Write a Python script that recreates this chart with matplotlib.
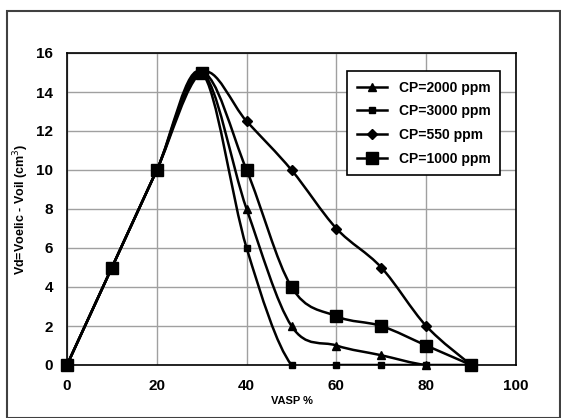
import numpy as np
import matplotlib.pyplot as plt
from matplotlib.path import Path
from matplotlib.patches import PathPatch, Rectangle

plt.rcParams['font.family'] = ['Liberation Sans', 'DejaVu Sans']

# data
vasp = [0, 10, 20, 30, 40, 50, 60, 70, 80, 90]
cp2000 = [0, 5, 10, 15, 8, 2, 1, 0.5, 0, 0]
cp3000 = [0, 5, 10, 15, 6, 0, 0, 0, 0, 0]
cp550 = [0, 5, 10, 15, 12.5, 10, 7, 5, 2, 0]
cp1000 = [0, 5, 10, 15, 10, 4, 2.5, 2, 1, 0]


def smooth_path(x, y):
    # excel style smoothed line through the points (bezier segments)
    p = np.column_stack([x, y]).astype(float)
    n = len(p)
    verts = [p[0]]
    codes = [Path.MOVETO]
    for i in range(n - 1):
        p0 = p[i - 1] if i > 0 else p[i]
        p3 = p[i + 2] if i + 2 < n else p[i + 1]
        c1 = p[i] + (p[i + 1] - p0) / 6.0
        c2 = p[i + 1] - (p3 - p[i]) / 6.0
        verts += [c1, c2, p[i + 1]]
        codes += [Path.CURVE4] * 3
    return Path(verts, codes)


fig = plt.figure(figsize=(5.61, 4.18), dpi=100)
ax = fig.add_axes([67 / 561, 1 - 365 / 418, 449 / 561, 312 / 418])

series = [
    (cp2000, '^', 6, 'CP=2000 ppm'),
    (cp3000, 's', 5, 'CP=3000 ppm'),
    (cp550, 'D', 5, 'CP=550 ppm'),
    (cp1000, 's', 8, 'CP=1000 ppm'),
]
for y, m, ms, lab in series:
    ax.add_patch(PathPatch(smooth_path(vasp, y), fc='none', ec='black', lw=1.8, zorder=3))
    ax.plot(vasp, y, ls='none', marker=m, ms=ms, color='black', zorder=4, clip_on=False)
    ax.plot([], [], color='black', lw=1.8, marker=m, ms=ms, label=lab)

ax.set_xlim(0, 100)
ax.set_ylim(0, 16)
ax.set_xticks(range(0, 101, 20))
ax.set_yticks(range(0, 17, 2))
ax.grid(True, color='#a0a0a0', lw=1)
ax.set_axisbelow(True)
ax.tick_params(length=0, pad=10, labelsize=11)
for t in ax.get_xticklabels() + ax.get_yticklabels():
    t.set_fontweight('bold')
for s in ax.spines.values():
    s.set_color('black')
    s.set_linewidth(1.2)

ax.set_xlabel('VASP %', fontsize=8, fontweight='bold', labelpad=2)
ax.set_ylabel('Vd=Voelic - Voil (cm$^3$)', fontsize=9, fontweight='bold', labelpad=4)

leg = ax.legend(loc='upper right', bbox_to_anchor=(0.98, 0.965),
                prop={'weight': 'bold', 'size': 10}, fancybox=False, framealpha=1,
                edgecolor='black', handlelength=2.2, borderpad=0.7, labelspacing=0.7)
leg.get_frame().set_linewidth(1.2)

fig.patches.append(Rectangle((7 / 561, 0.0), 553 / 561, 1 - 11 / 418, transform=fig.transFigure,
                             fill=False, ec='#404040', lw=1.5))

fig.savefig('out.png', dpi=100)
